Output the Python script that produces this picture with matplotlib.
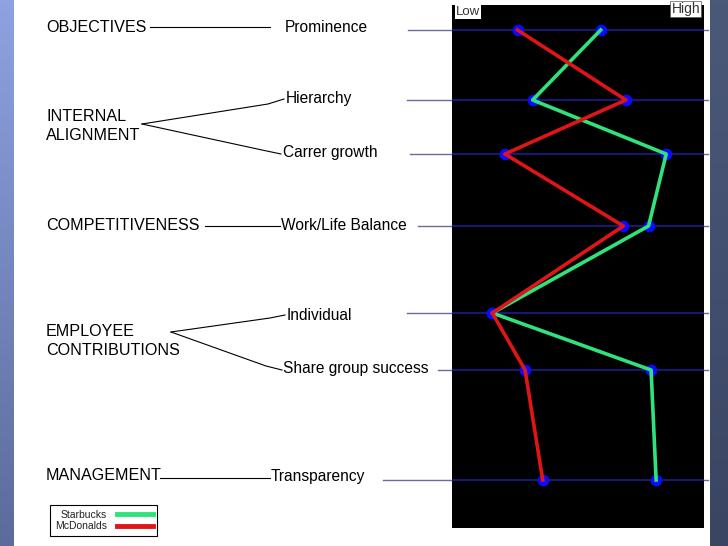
import numpy as np
import matplotlib
matplotlib.use("Agg")
import matplotlib.pyplot as plt

plt.rcParams['font.family'] = ['Liberation Sans', 'DejaVu Sans']

# data: position on the Low(0) .. High(10) scale for each criterion
criteria = ['Prominence', 'Hierarchy', 'Carrer growth', 'Work/Life Balance',
            'Individual', 'Share group success', 'Transparency']
starbucks = [5.9, 3.2, 8.5, 7.8, 1.6, 7.9, 8.1]
mcdonalds = [2.6, 6.9, 2.1, 6.8, 1.6, 2.9, 3.6]
groups = ['OBJECTIVES', 'INTERNAL\nALIGNMENT', 'COMPETITIVENESS',
          'EMPLOYEE\nCONTRIBUTIONS', 'MANAGEMENT']

# layout (pixel coordinates of the slide)
row_y = [30, 100, 154, 226, 313, 370, 480]
label_xy = [(285, 27), (286, 99), (283, 153), (281, 225), (287, 315), (283, 369), (271, 477)]
guide_start = [408, 407, 410, 418, 407, 438, 383]
group_xy = [(46, 27), (46, 126), (46, 225), (46, 341), (46, 476)]
connectors = [
    [(150, 27), (270, 27)],
    [(142, 124), (268, 104), (284, 99)],
    [(142, 124), (262, 150), (281, 154)],
    [(205, 226), (280, 226)],
    [(171, 332), (270, 318), (285, 315)],
    [(171, 332), (266, 366), (282, 370)],
    [(160, 478), (270, 478)],
]

W, H = 728, 546
fig = plt.figure(figsize=(W / 100, H / 100), dpi=100)
ax = fig.add_axes([0, 0, 1, 1])
ax.axis('off')

# side strips of the slide
grad = np.linspace(0, 1, 100).reshape(-1, 1)
left_cmap = matplotlib.colors.LinearSegmentedColormap.from_list('l', ['#8da2e0', '#5c6b9c'])
right_cmap = matplotlib.colors.LinearSegmentedColormap.from_list('r', ['#4b5979', '#3a4563'])
ax.imshow(grad, extent=(0, 14, H, 0), cmap=left_cmap, aspect='auto', zorder=0)
ax.imshow(grad, extent=(710, W, H, 0), cmap=right_cmap, aspect='auto', zorder=0)
ax.set_xlim(0, W)
ax.set_ylim(H, 0)

for (x, y), g in zip(group_xy, groups):
    ax.text(x, y, g, fontsize=11.6, ha='left', va='center', linespacing=1.35)
for (x, y), c in zip(label_xy, criteria):
    ax.text(x, y, c, fontsize=11.2, ha='left', va='center')
for seg in connectors:
    xs, ys = zip(*seg)
    ax.plot(xs, ys, color='black', lw=0.8)
for x0, y in zip(guide_start, row_y):
    ax.plot([x0, 452], [y, y], color='#6a6aa8', lw=1)
    ax.plot([704, 708], [y, y], color='#6a6aa8', lw=1)

# black chart panel
px0, px1, py0, py1 = 452, 704, 5, 528
pax = fig.add_axes([px0 / W, (H - py1) / H, (px1 - px0) / W, (py1 - py0) / H])
pax.set_facecolor('black')
pax.set_xlim(0, 10)
pax.set_ylim(py1, py0)
pax.set_xticks([])
pax.set_yticks([])
for s in pax.spines.values():
    s.set_visible(False)
for y in row_y:
    pax.axhline(y, color='#1c1c90', lw=1.2, zorder=1)
pax.scatter(starbucks, row_y, s=55, color='#0a0aff', zorder=2)
pax.scatter(mcdonalds, row_y, s=55, color='#0a0aff', zorder=2)
l_sb, = pax.plot(starbucks, row_y, color='#2fe27c', lw=2.6, zorder=3, label='Starbucks')
l_mc, = pax.plot(mcdonalds, row_y, color='#e01515', lw=2.6, zorder=3, label='McDonalds')
pax.text(0.15, 12, 'Low', fontsize=9.5, color='#333333', ha='left', va='center',
         bbox=dict(facecolor='white', edgecolor='none', pad=0.5))
pax.text(9.85, 9, 'High', fontsize=10, color='#333333', ha='right', va='center',
         bbox=dict(facecolor='white', edgecolor='#555555', lw=0.5, pad=0.8))

leg = fig.legend(handles=[l_sb, l_mc], loc='upper left',
                 bbox_to_anchor=(50 / W, 1 - 505 / H), fontsize=7.5,
                 markerfirst=False, fancybox=False, edgecolor='black',
                 framealpha=1, handlelength=3.4, borderpad=0.45,
                 labelspacing=0.15, handletextpad=1.0, borderaxespad=0)
leg.get_frame().set_linewidth(0.8)
for t in leg.get_texts():
    t.set_color('#222222')
for line in leg.get_lines():
    line.set_linewidth(3.5)

fig.savefig('out.png', dpi=100)
